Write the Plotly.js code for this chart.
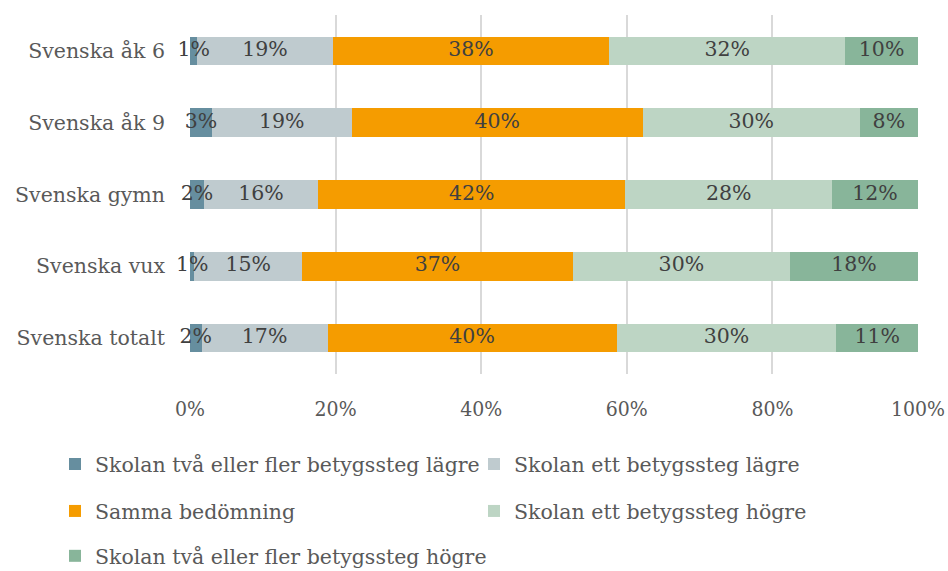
<!DOCTYPE html>
<html>
<head>
<meta charset="utf-8">
<script src="https://cdn.plot.ly/plotly-3.0.1.min.js"></script>
<style>html,body{margin:0;padding:0;background:#fff;}#chart{width:948px;height:571px;}</style>
</head>
<body>
<div id="chart"></div>
<script>
const categories = ["Svenska åk 6", "Svenska åk 9", "Svenska gymn", "Svenska vux", "Svenska totalt"];
const seriesNames = [
  "Skolan två eller fler betygssteg lägre",
  "Skolan ett betygssteg lägre",
  "Samma bedömning",
  "Skolan ett betygssteg högre",
  "Skolan två eller fler betygssteg högre"
];
const twoLower = [1.0, 3.0, 1.9, 0.6, 1.6];
const oneLower = [18.6, 19.2, 15.7, 14.8, 17.3];
const same     = [38.0, 40.0, 42.2, 37.2, 39.7];
const oneHigher = [32.4, 29.8, 28.4, 29.8, 30.2];
const twoHigher = [10.0, 8.0, 11.8, 17.6, 11.2];
const tickValues = [0, 20, 40, 60, 80, 100];
const tickLabels = ["0%", "20%", "40%", "60%", "80%", "100%"];

const colors = ["#668E9F", "#BFCBCF", "#F59C00", "#BDD5C4", "#88B59A"];
const legendIds = ["legend", "legend", "legend2", "legend2", "legend3"];
const seriesValues = [twoLower, oneLower, same, oneHigher, twoHigher];
const FONT = "DejaVu Serif";
const FS = 20.5;

const barTraces = seriesValues.map((vals, i) => ({
  type: "bar",
  orientation: "h",
  name: seriesNames[i],
  x: vals,
  y: categories,
  marker: {color: colors[i], line: {width: 0}},
  textposition: "none",
  hoverinfo: "skip",
  legend: legendIds[i]
}));

// data labels drawn on top of all bars, centred in each segment
const cum = categories.map(() => 0);
const labelX = [], labelY = [], labelText = [];
seriesValues.forEach(vals => {
  vals.forEach((v, j) => {
    labelX.push(cum[j] + v / 2);
    labelY.push(categories[j]);
    labelText.push(Math.round(v) + "%");
    cum[j] += v;
  });
});
const labelTrace = {
  type: "scatter",
  mode: "text",
  x: labelX,
  y: labelY,
  text: labelText,
  textposition: "middle center",
  textfont: {family: FONT, size: FS, color: "#404040"},
  cliponaxis: false,
  showlegend: false,
  hoverinfo: "skip"
};

const legendBase = {
  orientation: "h",
  xref: "paper", yref: "paper",
  xanchor: "left", yanchor: "middle",
  x: (55 - 190) / 728,
  font: {family: FONT, size: FS, color: "#595959"},
  entrywidth: 374,
  entrywidthmode: "pixels",
  traceorder: "normal",
  bgcolor: "rgba(0,0,0,0)"
};

const layout = {
  width: 948, height: 571,
  margin: {l: 190, r: 30, t: 14.5, b: 196.5, pad: 0, autoexpand: false},
  paper_bgcolor: "#ffffff",
  plot_bgcolor: "#ffffff",
  barmode: "stack",
  bargap: 0.6,
  showlegend: true,
  font: {family: FONT, color: "#595959"},
  xaxis: {
    range: [0, 100],
    tickvals: tickValues,
    ticktext: tickLabels,
    showgrid: true,
    gridcolor: "#D9D9D9",
    gridwidth: 2,
    zeroline: false,
    showline: false,
    ticks: "",
    ticklabelstandoff: 20,
    tickfont: {family: "DejaVu Serif Condensed", size: 21, color: "#595959"},
    fixedrange: true
  },
  yaxis: {
    type: "category",
    categoryorder: "array",
    categoryarray: categories,
    autorange: "reversed",
    showgrid: false,
    zeroline: false,
    showline: false,
    ticks: "",
    ticklabelstandoff: 24,
    tickfont: {family: FONT, size: FS, color: "#595959"},
    fixedrange: true
  },
  legend: Object.assign({}, legendBase, {y: (374.5 - 465) / 360}),
  legend2: Object.assign({}, legendBase, {y: (374.5 - 512) / 360}),
  legend3: Object.assign({}, legendBase, {y: (374.5 - 557) / 360, entrywidth: 440})
};

Plotly.newPlot("chart", barTraces.concat([labelTrace]), layout, {displayModeBar: false, staticPlot: true});
</script>
</body>
</html>
